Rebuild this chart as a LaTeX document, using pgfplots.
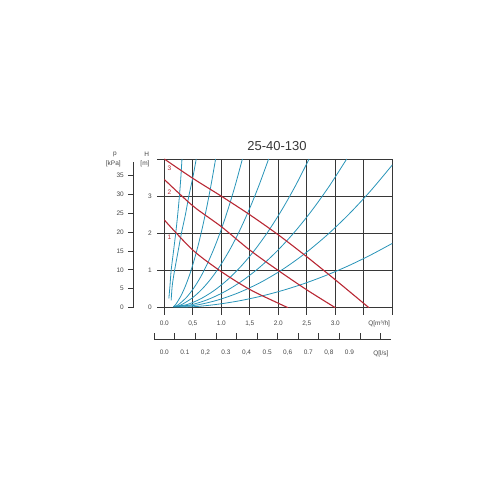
\documentclass[border=0pt]{standalone}
\usepackage{fontspec}
\setmainfont{Liberation Sans}
\usepackage{pgfplots}
\pgfplotsset{compat=1.18}
\definecolor{pumpred}{RGB}{185,40,52}
\definecolor{sysblue}{RGB}{40,148,184}
\definecolor{gridc}{RGB}{55,55,55}
\definecolor{txt}{RGB}{70,70,70}

\newcommand{\tinyfont}{\fontsize{6.5}{7.5}\selectfont}

\begin{document}
\begin{tikzpicture}
\path[use as bounding box] (0pt,0pt) rectangle (500pt,500pt);

% pressure scale p [kPa]
\begin{axis}[
  at={(133.3pt,192.3pt)}, anchor=south west,
  scale only axis, width=0.1pt, height=145.9pt,
  xmin=0, xmax=1, ymin=0, ymax=38.5,
  axis x line=none, axis y line*=left,
  axis line style={gridc, line width=1pt},
  ytick={0,5,...,35}, tick align=outside, major tick length=5pt,
  tick style={gridc, line width=0.7pt},
  yticklabel style={font=\tinyfont, text=txt, xshift=-1pt},
  /pgf/number format/assume math mode=true,
]
\end{axis}

% main chart H [m] vs Q [m3/h]
\begin{axis}[
  at={(164.3pt,192.3pt)}, anchor=south west,
  scale only axis, width=228pt, height=148.7pt,
  xmin=0, xmax=4, ymin=0, ymax=4,
  axis lines*=left,
  axis line style={gridc, line width=0.8pt},
  xtick={0,0.5,...,4}, ytick={0,1,2,3,4},
  xticklabels={0.0,{0,5},1.0,{1,5},2.0,{2,5},3.0,,},
  yticklabels={0,1,2,3,},
  tick align=outside, major tick length=7pt,
  tick style={gridc, line width=0.8pt},
  grid=major, grid style={gridc, line width=0.8pt},
  ticklabel style={font=\tinyfont, text=txt},
  xticklabel style={yshift=-3pt},
  yticklabel style={xshift=-2pt},
  /pgf/number format/assume math mode=true,
]
% system curves
\addplot[sysblue, line width=0.8pt, smooth] coordinates {(0.08,0.25) (0.10,0.6) (0.12,1) (0.16,1.5) (0.20,2) (0.235,2.5) (0.265,3) (0.29,3.5) (0.31,4)};
\addplot[sysblue, line width=0.8pt, smooth] coordinates {(0.12,0.2) (0.14,0.6) (0.18,1) (0.24,1.5) (0.30,2) (0.37,2.5) (0.43,3) (0.50,3.5) (0.56,4)};
\addplot[sysblue, line width=0.8pt, smooth] coordinates {(0.16,0.03) (0.1875,0.064) (0.225,0.143) (0.30,0.343) (0.375,0.6) (0.45,0.914) (0.525,1.286) (0.60,1.714) (0.675,2.2) (0.75,2.743) (0.825,3.343) (0.90,4)};
\addplot[sysblue, line width=0.8pt, smooth] coordinates {(0.16,0.03) (0.211,0.0475) (0.272,0.111) (0.394,0.286) (0.516,0.526) (0.638,0.829) (0.76,1.197) (0.882,1.629) (1.004,2.126) (1.126,2.686) (1.248,3.311) (1.37,4)};
\addplot[sysblue, line width=0.8pt, smooth] coordinates {(0.16,0.03) (0.234,0.039) (0.318,0.0945) (0.486,0.257) (0.654,0.487) (0.822,0.785) (0.99,1.152) (1.158,1.585) (1.326,2.087) (1.494,2.657) (1.662,3.295) (1.83,4)};
\addplot[sysblue, line width=0.8pt, smooth] coordinates {(0.16,0.03) (0.389,0.080) (0.628,0.231) (0.867,0.454) (1.106,0.747) (1.345,1.112) (1.584,1.547) (1.823,2.054) (2.062,2.631) (2.301,3.28) (2.54,4)};
\addplot[sysblue, line width=0.8pt, smooth] coordinates {(0.16,0.03) (0.455,0.0722) (0.76,0.217) (1.065,0.435) (1.37,0.726) (1.675,1.09) (1.98,1.526) (2.285,2.035) (2.59,2.617) (2.895,3.272) (3.2,4)};
\addplot[sysblue, line width=0.8pt, smooth] coordinates {(0.16,0.03) (0.535,0.0634) (0.92,0.198) (1.305,0.404) (1.69,0.681) (2.075,1.029) (2.46,1.449) (2.845,1.94) (3.23,2.502) (3.615,3.135) (4.0,3.84)};
\addplot[sysblue, line width=0.8pt, smooth] coordinates {(0.16,0.02) (0.535,0.0286) (0.92,0.0892) (1.305,0.182) (1.69,0.307) (2.075,0.464) (2.46,0.653) (2.845,0.874) (3.23,1.127) (3.615,1.413) (4.0,1.73)};
% pump curves 1, 2, 3
\addplot[pumpred, line width=1.1pt, smooth] coordinates {(0,2.36) (0.5,1.55) (1.0,0.97) (1.5,0.49) (2.0,0.12) (2.17,0)};
\addplot[pumpred, line width=1.1pt, smooth] coordinates {(0,3.45) (0.5,2.74) (1.0,2.18) (1.5,1.55) (2.0,1.0) (2.5,0.48) (3.0,0)};
\addplot[pumpred, line width=1.1pt, smooth] coordinates {(0,4.0) (0.5,3.48) (1.0,3.0) (1.5,2.5) (2.0,1.96) (2.5,1.37) (3.0,0.75) (3.59,0)};
\end{axis}

% flow scale Q [l/s]
\begin{axis}[
  at={(154.3pt,160.7pt)}, anchor=south west,
  scale only axis, width=236.4pt, height=0.1pt,
  xmin=-0.0486, xmax=1.1006, ymin=0, ymax=1,
  axis y line=none, axis x line*=bottom,
  axis line style={gridc, line width=1pt},
  xtick={-0.0486,0.0514,0.1514,0.2514,0.3514,0.4514,0.5514,0.6514,0.7514,0.8514,0.9514,1.0514},
  xticklabels={},
  tick align=inside, major tick length=6pt,
  tick style={gridc, line width=0.8pt},
  extra x ticks={0,0.1,0.2,0.3,0.4,0.5,0.6,0.7,0.8,0.9,1.053},
  extra x tick labels={0.0,0.1,{0,2},0.3,{0,4},0.5,{0,6},0.7,{0,8},0.9,Q[l/s]},
  extra x tick style={major tick length=0pt, xticklabel style={yshift=-7.5pt}},
  ticklabel style={font=\tinyfont, text=txt},
]
\end{axis}

% texts
\node[font=\fontsize{13}{15}\selectfont, text=gridc] at (277pt,353.5pt) {25-40-130};
\node[font=\tinyfont, text=txt] at (146.7pt,346pt) {H};
\node[font=\tinyfont, text=txt] at (145pt,335.7pt) {[m]};
\node[font=\tinyfont, text=txt] at (115pt,346pt) {p};
\node[font=\tinyfont, text=txt] at (113.3pt,335.7pt) {[kPa]};
\node[font=\tinyfont, text=txt] at (379.2pt,176pt) {Q[m³/h]};
\node[font=\tinyfont, text=pumpred] at (169.5pt,331.7pt) {3};
\node[font=\tinyfont, text=pumpred] at (169.5pt,307.7pt) {2};
\node[font=\tinyfont, text=pumpred] at (169.5pt,262.3pt) {1};
\end{tikzpicture}
\end{document}
